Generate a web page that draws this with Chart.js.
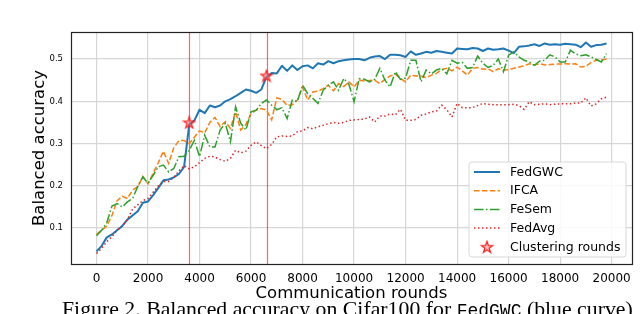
<!DOCTYPE html>
<html><head><meta charset="utf-8">
<script src="https://cdn.jsdelivr.net/npm/chart.js@4.4.1/dist/chart.umd.min.js"></script>
<style>
html,body{margin:0;padding:0;background:#fff;width:640px;height:314px;overflow:hidden;}
#wrap{position:absolute;left:0;top:0;width:640px;height:314px;}
#caption{position:absolute;left:62px;top:298px;white-space:nowrap;font-family:"Liberation Serif",serif;font-size:21.8px;color:#000;line-height:22px;}
#caption code{font-family:"Liberation Mono",monospace;font-size:18px;}
</style></head><body>
<div id="wrap"><canvas id="c" width="640" height="314"></canvas></div>
<div id="caption">Figure 2. Balanced accuracy on Cifar100 for <code>FedGWC</code> (blue curve)</div>
<script>
const rounds = [
0,200,400,600,800,1000,1200,1400,1600,1800,
2000,2200,2400,2600,2800,3000,3200,3400,3600,3800,
4000,4200,4400,4600,4800,5000,5200,5400,5600,5800,
6000,6200,6400,6600,6800,7000,7200,7400,7600,7800,
8000,8200,8400,8600,8800,9000,9200,9400,9600,9800,
10000,10200,10400,10600,10800,11000,11200,11400,11600,11800,
12000,12200,12400,12600,12800,13000,13200,13400,13600,13800,
14000,14200,14400,14600,14800,15000,15200,15400,15600,15800,
16000,16200,16400,16600,16800,17000,17200,17400,17600,17800,
18000,18200,18400,18600,18800,19000,19200,19400,19600,19800];

const fedgwc = [
0.045,0.058,0.078,0.085,0.095,0.105,0.12,0.13,0.14,0.16,
0.163,0.178,0.195,0.213,0.215,0.22,0.228,0.245,0.345,0.355,
0.38,0.372,0.39,0.386,0.39,0.4,0.405,0.412,0.42,0.428,
0.425,0.42,0.428,0.458,0.467,0.466,0.484,0.472,0.485,0.474,
0.483,0.485,0.478,0.49,0.487,0.495,0.49,0.495,0.497,0.499,
0.5,0.5,0.497,0.503,0.506,0.507,0.5,0.51,0.51,0.509,
0.505,0.518,0.51,0.513,0.517,0.515,0.519,0.517,0.515,0.513,
0.525,0.524,0.523,0.526,0.525,0.519,0.525,0.522,0.523,0.525,
0.52,0.514,0.529,0.53,0.532,0.535,0.531,0.537,0.534,0.535,
0.534,0.536,0.535,0.534,0.528,0.539,0.529,0.533,0.534,0.537];

const ifca = [
0.085,0.095,0.105,0.13,0.165,0.175,0.17,0.19,0.198,0.222,
0.205,0.23,0.255,0.282,0.253,0.29,0.307,0.307,0.3,0.315,
0.33,0.325,0.35,0.362,0.34,0.352,0.336,0.375,0.332,0.345,
0.371,0.379,0.383,0.379,0.356,0.408,0.405,0.39,0.392,0.403,
0.434,0.403,0.422,0.424,0.43,0.438,0.425,0.442,0.435,0.446,
0.434,0.45,0.448,0.449,0.45,0.442,0.452,0.46,0.464,0.454,
0.446,0.462,0.46,0.46,0.456,0.462,0.466,0.475,0.478,0.472,
0.481,0.472,0.462,0.478,0.48,0.476,0.477,0.47,0.477,0.474,
0.475,0.478,0.481,0.484,0.489,0.486,0.489,0.486,0.487,0.488,
0.488,0.489,0.488,0.489,0.481,0.483,0.492,0.497,0.498,0.5];

const fesem = [
0.082,0.095,0.113,0.152,0.158,0.15,0.162,0.17,0.198,0.221,
0.206,0.225,0.245,0.249,0.233,0.241,0.269,0.27,0.284,0.308,
0.269,0.32,0.292,0.292,0.332,0.348,0.304,0.387,0.348,0.332,
0.375,0.379,0.395,0.403,0.391,0.38,0.385,0.359,0.403,0.4,
0.438,0.418,0.407,0.395,0.426,0.438,0.446,0.426,0.454,0.44,
0.399,0.454,0.452,0.446,0.452,0.478,0.45,0.434,0.47,0.452,
0.455,0.497,0.497,0.446,0.474,0.465,0.474,0.478,0.465,0.497,
0.49,0.492,0.478,0.48,0.507,0.49,0.48,0.485,0.5,0.47,
0.509,0.517,0.505,0.497,0.493,0.485,0.495,0.497,0.51,0.505,
0.493,0.493,0.521,0.512,0.508,0.51,0.505,0.499,0.493,0.513];

const fedavg = [
0.04,0.052,0.068,0.08,0.095,0.105,0.12,0.145,0.155,0.165,
0.17,0.185,0.2,0.21,0.21,0.22,0.235,0.248,0.24,0.245,
0.255,0.265,0.27,0.268,0.262,0.258,0.265,0.284,0.278,0.282,
0.296,0.304,0.295,0.288,0.298,0.316,0.318,0.317,0.318,0.328,
0.33,0.338,0.335,0.34,0.343,0.347,0.35,0.348,0.35,0.355,
0.356,0.357,0.358,0.363,0.351,0.365,0.365,0.37,0.368,0.381,
0.355,0.355,0.357,0.367,0.37,0.375,0.377,0.391,0.38,0.363,
0.395,0.385,0.385,0.385,0.39,0.395,0.393,0.392,0.392,0.392,
0.392,0.393,0.39,0.381,0.399,0.392,0.393,0.394,0.392,0.393,
0.394,0.394,0.394,0.396,0.396,0.408,0.389,0.394,0.406,0.41];

const clusterRounds = [3600, 6600];
const clusterAcc = [0.35, 0.461];

const seriesNames = ['FedGWC', 'IFCA', 'FeSem', 'FedAvg', 'Clustering rounds'];
const xTicks = [0,2000,4000,6000,8000,10000,12000,14000,16000,18000,20000];
const yTicks = [0.1,0.2,0.3,0.4,0.5];

const FONT = '"DejaVu Sans", sans-serif';

// star marker (matplotlib-like '*')
function makeStar(size) {
  const c = document.createElement('canvas');
  c.width = size; c.height = size;
  const g = c.getContext('2d');
  const cx = size/2, cy = size/2 + 0.6, R = size/2 - 1, r = R*0.382;
  g.beginPath();
  for (let i = 0; i < 10; i++) {
    const rad = (i % 2 === 0) ? R : r;
    const a = -Math.PI/2 + i*Math.PI/5;
    const px = cx + rad*Math.cos(a), py = cy + rad*Math.sin(a);
    if (i === 0) g.moveTo(px, py); else g.lineTo(px, py);
  }
  g.closePath();
  g.fillStyle = 'rgba(255,120,120,0.45)';
  g.fill();
  g.strokeStyle = '#ff1a1a';
  g.lineWidth = 1.2;
  g.stroke();
  return c;
}
const starImg = makeStar(14);

const pts = (vals) => rounds.map((r, i) => ({x: r, y: vals[i]}));

const vlinePlugin = {
  id: 'vlines',
  beforeDatasetsDraw(chart) {
    const {ctx, chartArea: a, scales: {x}} = chart;
    ctx.save();
    ctx.strokeStyle = 'rgba(255,0,0,0.6)';
    ctx.lineWidth = 1.2;
    clusterRounds.forEach(r => {
      const px = Math.round(x.getPixelForValue(r)) + 0.5;
      ctx.beginPath(); ctx.moveTo(px, a.top); ctx.lineTo(px, a.bottom); ctx.stroke();
    });
    ctx.restore();
  }
};

const framePlugin = {
  id: 'frame',
  afterDraw(chart) {
    const {ctx, chartArea: a} = chart;
    ctx.save();
    ctx.strokeStyle = '#222';
    ctx.lineWidth = 1.2;
    ctx.strokeRect(Math.round(a.left)+0.5, Math.round(a.top)+0.5, Math.round(a.right-a.left), Math.round(a.bottom-a.top));
    ctx.restore();
  }
};

const legendPlugin = {
  id: 'mplLegend',
  afterDatasetsDraw(chart) {
    const {ctx, chartArea: a} = chart;
    const bx = a.right - 163, by = a.bottom - 102, bw = 157, bh = 95;
    ctx.save();
    const rr = 3;
    ctx.beginPath();
    ctx.moveTo(bx+rr, by); ctx.lineTo(bx+bw-rr, by); ctx.quadraticCurveTo(bx+bw, by, bx+bw, by+rr);
    ctx.lineTo(bx+bw, by+bh-rr); ctx.quadraticCurveTo(bx+bw, by+bh, bx+bw-rr, by+bh);
    ctx.lineTo(bx+rr, by+bh); ctx.quadraticCurveTo(bx, by+bh, bx, by+bh-rr);
    ctx.lineTo(bx, by+rr); ctx.quadraticCurveTo(bx, by, bx+rr, by);
    ctx.closePath();
    ctx.fillStyle = 'rgba(255,255,255,0.85)';
    ctx.fill();
    ctx.strokeStyle = '#d8d8d8';
    ctx.lineWidth = 1;
    ctx.stroke();
    const rowH = 18.7;
    ctx.font = '12.5px ' + FONT;
    ctx.textBaseline = 'middle';
    ctx.fillStyle = '#000';
    chart.data.datasets.forEach((ds, i) => {
      const cy = by + 10 + i*rowH;
      if (ds.type === 'scatter') {
        ctx.drawImage(starImg, bx + 18 - 7, cy - 7);
      } else {
        ctx.save();
        ctx.strokeStyle = ds.borderColor;
        ctx.lineWidth = ds.borderWidth;
        ctx.setLineDash(ds.borderDash || []);
        ctx.beginPath(); ctx.moveTo(bx + 5, cy); ctx.lineTo(bx + 31, cy); ctx.stroke();
        ctx.restore();
      }
      ctx.fillText(ds.label, bx + 41, cy + 0.5);
    });
    ctx.restore();
  }
};

new Chart(document.getElementById('c'), {
  type: 'line',
  data: {
    datasets: [
      {label: seriesNames[0], data: pts(fedgwc), borderColor: '#1f77b4', borderWidth: 2, pointRadius: 0, order: 5, borderJoinStyle: 'round'},
      {label: seriesNames[1], data: pts(ifca), borderColor: '#ff7f0e', borderWidth: 1.5, borderDash: [5.5, 2.4], pointRadius: 0, order: 4},
      {label: seriesNames[2], data: pts(fesem), borderColor: '#2ca02c', borderWidth: 1.5, borderDash: [9.6, 2.4, 1.5, 2.4], pointRadius: 0, order: 3},
      {label: seriesNames[3], data: pts(fedavg), borderColor: '#d62728', borderWidth: 1.5, borderDash: [1.5, 2.5], pointRadius: 0, order: 2},
      {type: 'scatter', label: seriesNames[4], data: clusterRounds.map((r, i) => ({x: r, y: clusterAcc[i]})), pointStyle: starImg, pointRadius: 7, order: 0, borderColor: 'red', backgroundColor: 'red'}
    ]
  },
  options: {
    responsive: false,
    animation: false,
    events: [],
    layout: {padding: {left: 0, top: 32, right: 8, bottom: 0}},
    plugins: {legend: {display: false}, tooltip: {enabled: false}},
    elements: {line: {tension: 0}},
    scales: {
      x: {
        type: 'linear', min: -990, max: 20790,
        afterBuildTicks: s => { s.ticks = xTicks.map(v => ({value: v})); },
        afterFit: s => { s.height = 50; },
        ticks: {font: {family: FONT, size: 12}, color: '#000', padding: 8, maxRotation: 0, callback: v => String(v)},
        grid: {color: '#d6d6d6', lineWidth: 1.2, drawTicks: false},
        border: {display: false},
        title: {display: true, text: 'Communication rounds', font: {family: FONT, size: 16.5}, color: '#000', padding: {top: 0, bottom: 10}}
      },
      y: {
        type: 'linear', min: 0.015, max: 0.564,
        afterBuildTicks: s => { s.ticks = yTicks.map(v => ({value: v})); },
        afterFit: s => { s.width = 71; },
        ticks: {font: {family: FONT, size: 8.5}, color: '#000', padding: 8, callback: v => v.toFixed(1)},
        grid: {color: '#d6d6d6', lineWidth: 1.2, drawTicks: false},
        border: {display: false},
        title: {display: true, text: 'Balanced accuracy', font: {family: FONT, size: 16.5}, color: '#000', padding: {top: 30, bottom: 0}}
      }
    }
  },
  plugins: [vlinePlugin, legendPlugin, framePlugin]
});
</script>
</body></html>
